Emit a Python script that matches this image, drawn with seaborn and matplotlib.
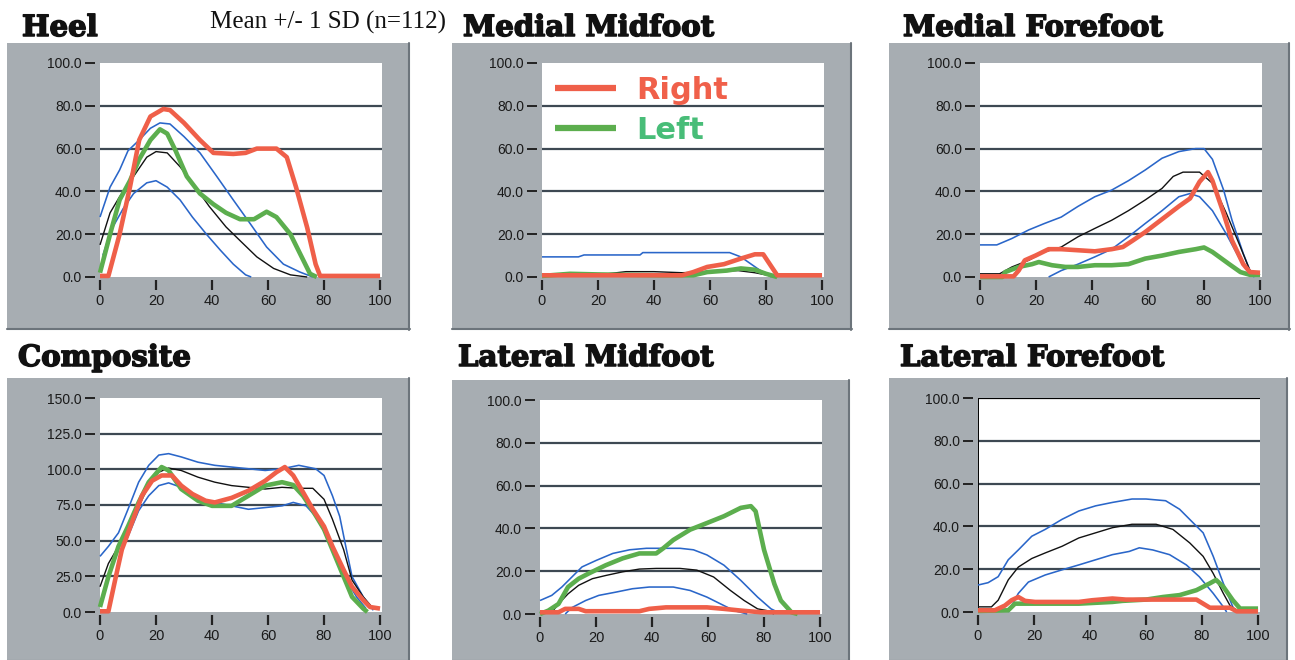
import matplotlib
matplotlib.use("Agg")
import matplotlib.pyplot as plt
import matplotlib.patheffects as pe
import seaborn as sns
from matplotlib.patches import Rectangle
from matplotlib.lines import Line2D

# ---------------- data (percent of stance vs. pressure) ----------------
TITLES = ["Heel", "Medial Midfoot", "Medial Forefoot",
          "Composite", "Lateral Midfoot", "Lateral Forefoot"]
Y_MAX = [100, 100, 100, 150, 100, 100]
Y_STEP = [20, 20, 20, 25, 20, 20]
X_TICKS = [0, 20, 40, 60, 80, 100]
LEGEND_LABELS = ["Right", "Left"]
SUBTITLE = "Mean +/- 1 SD (n=112)"

HEEL_RIGHT = [(0, 0.5), (3, 0.5), (7, 20), (10.7, 42), (14, 64), (18, 75), (22.6, 78.5), (25, 78), (30, 72),
              (35.7, 64), (40.5, 58), (47.6, 57.5), (52, 58), (56, 60), (63, 60), (66.7, 56), (70, 42),
              (74, 23), (77, 6), (78.6, 0.5), (100, 0.5)]
HEEL_LEFT = [(0, 2), (3.6, 20), (7, 36), (10.7, 45), (14, 55), (18, 64), (21.4, 69), (24, 67), (27, 59),
             (31, 47), (35.7, 39), (40.5, 34), (45, 30), (50, 27), (55, 27), (59.5, 30.5), (63, 28),
             (68, 20), (71.4, 11), (75, 1.5), (77.4, 0)]
HEEL_MEAN = [(0, 15), (3.6, 30), (7, 37.5), (12, 47), (16.7, 56), (20, 58.6), (24, 58), (28.6, 51.5),
             (33, 44), (39, 33), (45, 23.4), (50, 17), (56, 9.4), (62, 4), (68, 1), (74, 0)]
HEEL_UPPER = [(0, 28), (3.6, 42), (7, 50), (10, 59), (14, 64), (18, 69.5), (21.4, 72), (25, 71.5),
              (30, 65.6), (35.7, 58), (41.7, 47), (47.6, 36), (53.6, 25), (59.5, 14), (65.5, 6),
              (71.4, 2.3), (76, 0)]
HEEL_LOWER = [(1, 10), (4, 22), (8.3, 32), (12, 39), (16.7, 44), (20, 45), (24, 42), (28.6, 36),
              (33, 28), (38, 20), (43, 12.5), (47.6, 6), (52, 1), (54, 0)]

MMID_RIGHT = [(0, 0.8), (50, 0.8), (54, 2.3), (59, 4.7), (65, 6), (71, 8.6), (76, 10.6), (79, 10.6),
              (82, 4.7), (84, 0.8), (100, 0.8)]
MMID_LEFT = [(0, 0.5), (10, 1.5), (20, 1.2), (42, 0.8), (54, 0.8), (59, 2.3), (66, 3), (71, 4),
             (76, 3.4), (80, 1.5), (84, 0)]
MMID_MEAN = [(0, 0.5), (10, 2), (16, 2), (20, 1), (30, 2.5), (40, 2.5), (50, 2), (60, 2.5), (70, 3),
             (76, 2), (80, 1), (84, 0)]
MMID_UPPER = [(0, 9.4), (13, 9.4), (15, 10.3), (35, 10.3), (36, 11.4), (67, 11.4), (71, 9.4),
              (74.7, 6), (78, 3), (82, 0)]
MMID_LOWER = []

MFORE_UPPER = [(0, 15), (6, 15), (11.4, 18), (17.4, 22), (23, 25), (29, 28), (35, 33), (41, 37.5),
               (47, 40.6), (53, 45), (59, 50), (65, 55.5), (71, 58.6), (77, 60), (80, 60), (83, 55),
               (87, 40.6), (90, 26.5), (94, 11), (96.4, 3), (98.8, 1)]
MFORE_MEAN = [(0, 1.5), (7, 1.5), (11.4, 4.7), (17.4, 7.8), (23, 11.7), (29, 14), (35, 18.8),
              (41, 22.7), (47, 26.5), (53, 31), (59, 36), (65, 41.4), (69, 47), (72.5, 49), (78.4, 49),
              (83, 43.8), (88, 29.7), (93, 14), (96.4, 3), (100, 1)]
MFORE_LOWER = [(24.5, 0), (29, 3), (35, 6), (41, 9.4), (47, 13), (53, 18.8), (59, 25), (65, 31),
               (71, 37.5), (75, 39), (78.4, 37.5), (83, 31), (88, 20), (93, 7.8), (96.4, 1.5), (98, 0)]
MFORE_RIGHT = [(0, 0.3), (12, 0.3), (13.8, 3), (16, 7.8), (19.8, 10), (24.5, 13), (29, 13),
               (35, 12.5), (41, 12), (47, 13), (51, 14), (54.5, 17), (59, 21), (65, 27), (71, 33),
               (75, 36.7), (78.4, 44.5), (81.4, 49), (83, 45), (87, 29.7), (90, 17), (94, 6),
               (96.4, 2.3), (100, 2)]
MFORE_LEFT = [(0, 0), (8, 0), (9, 2.3), (13.8, 4.7), (18.6, 6), (21, 7), (25.7, 5.5), (30.5, 4.7),
              (35, 4.7), (41, 5.5), (47, 5.5), (53, 6), (59, 8.6), (65, 10), (71, 11.7), (77, 13),
              (80, 13.8), (83, 11.7), (89, 6), (93, 2.3), (96.4, 1), (100, 1)]

COMP_UPPER = [(0, 39), (3, 46), (6.6, 55.5), (10, 72), (13.8, 91), (17.4, 102.8), (21, 110),
              (24.5, 111), (29, 108.7), (35, 105), (41, 102.8), (47, 101.6), (53, 100.4), (59, 99.2),
              (65, 100.4), (71, 102.8), (77, 100.4), (80, 95.7), (83, 81.5), (85.6, 67), (88, 43.7),
              (90, 24.8), (94, 10.6), (97.6, 1.2)]
COMP_MEAN = [(0, 17.7), (3, 34), (6.6, 46), (10, 58), (13.8, 74), (17.4, 88.6), (21, 98),
             (24.5, 100.9), (29, 99.2), (35, 94.5), (41, 91), (47, 88.6), (53, 87.4), (59, 86.2),
             (65, 87.4), (71, 86.7), (76, 86.7), (80, 79), (83, 65), (87, 43.7), (90, 22.4),
             (94, 10.6), (97.6, 2.4)]
COMP_LOWER = [(7.8, 43.7), (10, 53), (13.8, 71), (17.4, 81.5), (21, 88.6), (24.5, 90.5), (29, 87.4),
              (35, 80), (41, 76.8), (47, 74.4), (53, 72), (59, 73.2), (65, 74.4), (69, 76.8),
              (73.6, 74.4), (77, 67), (81, 53), (84.4, 39), (88, 22.4), (91.6, 10.6), (95, 2.4)]
COMP_RIGHT = [(0, 0.5), (3, 0.5), (5.4, 22.4), (7.8, 43.7), (11.4, 62.6), (15, 81.5), (18.6, 92),
              (22, 95.7), (25.7, 95.7), (29, 88.6), (33, 82.7), (37.7, 78), (41, 76.8), (47, 80),
              (53, 85), (59, 92), (63, 98), (66, 101.6), (69, 95.7), (72.5, 84), (76, 72), (80, 60),
              (83, 46), (87, 29.5), (90, 17.7), (94, 8.3), (96.4, 3.5), (100, 2.4)]
COMP_LEFT = [(0, 3.5), (3, 24.8), (6.6, 46), (10, 60), (13.8, 76.8), (17.4, 91), (22, 101.6),
             (24.5, 99.2), (29, 86.2), (35, 78), (40, 74.4), (47, 74.4), (53, 81.5), (59, 88.6),
             (65, 91), (69, 89), (72.5, 81.5), (76, 71), (80, 58), (83, 43.7), (87, 24.8), (90, 10.6),
             (94, 2.4), (95.5, 0)]

LMID_LEFT = [(0, 0), (3, 1.6), (6.6, 4.7), (10, 12.6), (13.8, 16.5), (17.5, 19), (23.5, 22.8),
             (29.5, 26), (35.5, 28.3), (41.5, 28.3), (44, 30.7), (47.6, 34.6), (53.6, 39.4),
             (59.6, 42.5), (65.7, 45.7), (71.7, 49.6), (75.3, 50.4), (77, 48), (80, 30), (83.7, 14),
             (86, 6.3), (89.8, 0.8), (92, 0)]
LMID_UPPER = [(0, 6.3), (4.2, 8.7), (7.8, 12.6), (11.4, 17.3), (15, 22), (20, 25), (26, 28.3),
              (32, 30), (38, 30.7), (50, 30.7), (54.8, 30), (59.6, 27.6), (65.7, 22.8), (71.7, 15.7),
              (77.7, 7.9), (82.5, 2.4), (85, 0.8)]
LMID_MEAN = [(0, 0.3), (4.2, 0.8), (6.6, 4.7), (10, 9.4), (13.8, 13.4), (18.7, 16.5), (23.5, 18),
             (29.5, 19.7), (35.5, 21), (41.5, 21.3), (50, 21.3), (56, 20.5), (62, 17.3), (68, 11),
             (72.9, 6.3), (77.7, 2.4), (81, 1.6), (83.5, 0)]
LMID_LOWER = [(9, 0), (11.4, 3), (16.3, 6.3), (21, 8.7), (27, 10.2), (33, 11.8), (39, 12.6),
              (47.6, 12.6), (53.6, 11), (59.6, 7.9), (64.5, 4.7), (69.3, 1.6), (74, 0)]
LMID_RIGHT = [(0, 0.8), (6.6, 0.8), (9, 2.4), (13.8, 2.4), (16.3, 1.3), (35.5, 1.3), (39, 2.4),
              (45, 3.1), (59.6, 3.1), (65.7, 2.4), (71.7, 1.6), (79, 0.8), (100, 0.8)]

LFORE_UPPER = [(0, 12.6), (3.6, 13.7), (7.2, 16.5), (10.8, 24.4), (14.4, 29), (19.2, 35.4), (24, 38.6),
               (30, 43.3), (36, 47.2), (42, 49.6), (48, 51.2), (55, 52.8), (60, 52.8), (67, 52),
               (72, 48), (76.8, 41.7), (80.4, 37), (84, 26), (87.6, 13.4), (91, 2.4), (92, 0)]
LFORE_MEAN = [(0, 2.4), (4.8, 2.4), (7.2, 5.5), (10.8, 15), (14.4, 21), (19.2, 25), (24, 27.6),
              (30, 30.7), (36, 34.6), (42, 37), (48, 39.4), (55, 41), (63.6, 41), (69.6, 38.6),
              (75.6, 32.3), (80.4, 26), (84, 18), (87.6, 8.7), (90, 3), (92.4, 0.8)]
LFORE_LOWER = [(10.8, 0), (14.4, 8.7), (18, 14), (24, 17.3), (30, 19.7), (36, 22), (42, 24.4),
               (48, 26.8), (54, 28.3), (57.6, 30), (62.4, 29), (68.4, 26.8), (74.4, 22), (79, 16.5),
               (84, 8.7), (87.6, 2.4), (88.8, 0)]
LFORE_RIGHT = [(0, 0.8), (6, 0.8), (9.6, 3), (12, 5.5), (14.4, 7), (16.8, 5.2), (20.4, 4.7), (36, 4.7),
               (40.8, 5.5), (48, 6.3), (52.8, 5.8), (78, 5.8), (80.4, 3.9), (82.8, 2), (90, 2),
               (92.4, 0.3), (100, 0.3)]
LFORE_LEFT = [(0, 0.5), (10.8, 0.8), (13.2, 3.9), (36, 3.9), (48, 4.7), (51.6, 5.2), (60, 5.8),
              (66, 7), (72, 7.9), (78, 10.2), (82.8, 13.4), (85, 15), (87.6, 11.8), (91, 5.5),
              (93.6, 1.6), (100, 1.6)]

# ---------------- styling ----------------
W, H = 1295, 660
RED = "#ef5f49"
GREEN = "#5cae4e"
BLUE = "#2a66c9"
BLACK = "#111111"
FRAME = "#a7adb2"
FRAME_EDGE = "#6c747b"
GRID = "#3e4953"
LEG_RED = "#f0604a"
LEG_GREEN = "#48bd78"

sns.set_theme(style="white")
plt.rcParams["font.family"] = ["Liberation Sans", "DejaVu Sans"]

fig = plt.figure(figsize=(W / 100, H / 100), dpi=100, facecolor="white")

# layout in pixels: (frame_left, frame_top, frame_right, frame_bottom, ax_left, ax_top, title_x, title_base)
LAYOUT = [
    (7, 43, 410, 330, 100, 63, 22, 36),
    (452, 43, 852, 330, 542, 63, 463, 36),
    (889, 43, 1290, 330, 980, 63, 903, 36),
    (7, 378, 410, 662, 100, 398, 18, 366),
    (452, 380, 850, 662, 540, 400, 458, 366),
    (889, 378, 1288, 662, 978, 398, 900, 366),
]
AX_W, AX_H = 282, 214

SERIES = [
    (HEEL_UPPER, HEEL_LOWER, HEEL_MEAN, HEEL_LEFT, HEEL_RIGHT),
    (MMID_UPPER, MMID_LOWER, MMID_MEAN, MMID_LEFT, MMID_RIGHT),
    (MFORE_UPPER, MFORE_LOWER, MFORE_MEAN, MFORE_LEFT, MFORE_RIGHT),
    (COMP_UPPER, COMP_LOWER, COMP_MEAN, COMP_LEFT, COMP_RIGHT),
    (LMID_UPPER, LMID_LOWER, LMID_MEAN, LMID_LEFT, LMID_RIGHT),
    (LFORE_UPPER, LFORE_LOWER, LFORE_MEAN, LFORE_LEFT, LFORE_RIGHT),
]


def fx(px):
    return px / W


def fy(py):
    return 1 - py / H


def plot_curve(ax, pts, color, lw, z, label=None):
    if not pts:
        return
    xs = [p[0] for p in pts]
    ys = [p[1] for p in pts]
    sns.lineplot(x=xs, y=ys, ax=ax, color=color, linewidth=lw, sort=False,
                 estimator=None, zorder=z, clip_on=False, label=label,
                 solid_joinstyle="round", solid_capstyle="butt")


for i, (title, ymax, ystep, lay, series) in enumerate(zip(TITLES, Y_MAX, Y_STEP, LAYOUT, SERIES)):
    fl, ft, fr, fb, axl, axt, tx, tb = lay
    # grey panel frame (behind the axes)
    fig.patches.append(Rectangle((fx(fl), fy(fb)), fx(fr - fl), (fb - ft) / H,
                                 transform=fig.transFigure, facecolor=FRAME,
                                 edgecolor="none", zorder=-2))
    fig.lines.append(Line2D([fx(fr - 1), fx(fr - 1)], [fy(ft), fy(fb)], transform=fig.transFigure,
                            color=FRAME_EDGE, linewidth=1.5, zorder=-1))
    fig.lines.append(Line2D([fx(fl), fx(fr)], [fy(fb - 1), fy(fb - 1)], transform=fig.transFigure,
                            color=FRAME_EDGE, linewidth=1.5, zorder=-1))
    # title
    fig.text(fx(tx), fy(tb), title, fontfamily="DejaVu Serif", fontweight="bold",
             fontsize=21, va="baseline", ha="left", color="#111111",
             path_effects=[pe.withStroke(linewidth=1.1, foreground="#111111")])

    ax = fig.add_axes([fx(axl), fy(axt + AX_H), fx(AX_W), AX_H / H])
    ax.set_zorder(1)
    ax.set_facecolor("white")
    ax.set_xlim(0, 100.7)
    ax.set_ylim(0, ymax)

    yt = list(range(0, ymax + 1, ystep))
    for v in yt[1:-1]:
        ax.axhline(v, color=GRID, linewidth=1.6, zorder=1)
    if i == 5:
        ax.axhline(ymax, color="black", linewidth=1.6, zorder=1)
        ax.axvline(0, color="black", linewidth=1.4, zorder=1)

    upper, lower, mean, left, right = series
    plot_curve(ax, upper, BLUE, 1.15, 3)
    plot_curve(ax, lower, BLUE, 1.15, 3)
    plot_curve(ax, mean, BLACK, 1.0, 4)
    plot_curve(ax, left, GREEN, 3.3, 5, label=LEGEND_LABELS[1] if i == 1 else None)
    plot_curve(ax, right, RED, 3.3, 6, label=LEGEND_LABELS[0] if i == 1 else None)

    for s in ax.spines.values():
        s.set_visible(False)
    ax.spines["left"].set_position(("outward", 3.8))
    ax.spines["bottom"].set_position(("outward", 2.2))
    ax.set_yticks(yt)
    ax.set_yticklabels([f"{v:.1f}" for v in yt])
    ax.set_xticks(X_TICKS)
    ax.set_xticklabels([str(v) for v in X_TICKS])
    ax.tick_params(axis="y", left=True, length=7.2, width=1.4, color="#222222", pad=2,
                   labelsize=10, labelcolor="#1a1a1a")
    ax.tick_params(axis="x", bottom=True, length=7.5, width=1.6, color="#222222", pad=2.5,
                   labelsize=10.5, labelcolor="#1a1a1a")
    ax.set_xlabel("")
    ax.set_ylabel("")

    if i == 1:
        handles, labels = ax.get_legend_handles_labels()
        order = [labels.index(LEGEND_LABELS[0]), labels.index(LEGEND_LABELS[1])]
        leg = ax.legend([handles[k] for k in order], [labels[k] for k in order],
                        loc="upper left", bbox_to_anchor=(-0.035, 1.047), frameon=False,
                        borderpad=0.25, handlelength=2.0, handletextpad=0.65,
                        labelspacing=0.35,
                        prop={"family": "DejaVu Sans", "weight": "bold", "size": 22},
                        labelcolor=[LEG_RED, LEG_GREEN])
        for ln in leg.get_lines():
            ln.set_linewidth(4.5)
    elif ax.get_legend() is not None:
        ax.get_legend().remove()

fig.text(fx(210), fy(29), SUBTITLE, fontfamily="Liberation Serif", fontsize=18,
         va="baseline", ha="left", color="#111111")

fig.savefig("out.png", dpi=100, facecolor="white")
